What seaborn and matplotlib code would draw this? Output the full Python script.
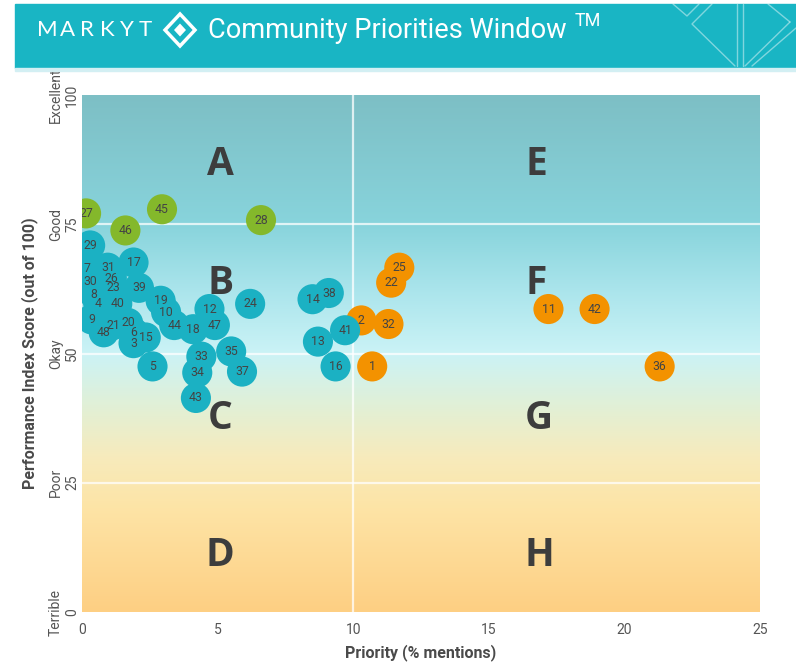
import numpy as np
import pandas as pd
import matplotlib
matplotlib.use("Agg")
import matplotlib.pyplot as plt
from matplotlib.colors import LinearSegmentedColormap
from matplotlib.patches import Polygon, Rectangle
from matplotlib.lines import Line2D
import seaborn as sns

# Community priority items (id, priority %, performance score, group)
labels = [25, 22, 2, 32, 1, 11, 42, 36,
          27, 45, 46, 28,
          29, 7, 31, 17, 26, 30, 23, 39, 8, 4, 40, 19, 10, 12, 24,
          9, 21, 20, 6, 48, 15, 3, 44, 18, 47, 5, 33, 35, 34, 37, 43,
          14, 38, 13, 41, 16]
priority = [11.7, 11.4, 10.3, 11.3, 10.7, 17.2, 18.9, 21.3,
            0.15, 2.95, 1.6, 6.6,
            0.3, 0.2, 0.95, 1.9, 1.1, 0.3, 1.15, 2.1, 0.45, 0.6, 1.3, 2.9, 3.1, 4.7, 6.2,
            0.35, 1.15, 1.7, 1.9, 0.8, 2.35, 1.9, 3.4, 4.1, 4.9, 2.6, 4.4, 5.5, 4.25, 5.9, 4.2,
            8.5, 9.1, 8.7, 9.7, 9.35]
performance = [66.6, 63.7, 56.4, 55.7, 47.5, 58.6, 58.6, 47.5,
               77.1, 77.9, 73.8, 75.8,
               70.9, 66.4, 66.6, 67.6, 64.6, 63.9, 62.7, 62.7, 61.5, 59.6, 59.6, 60.2, 58.0, 58.6, 59.6,
               56.6, 55.5, 55.9, 54.1, 54.1, 53.1, 52.0, 55.5, 54.7, 55.5, 47.5, 49.4, 50.4, 46.3, 46.5, 41.4,
               60.5, 61.7, 52.3, 54.5, 47.5]
group = ["high"] * 8 + ["good"] * 4 + ["ok"] * 36

quad_letters = ["A", "E", "B", "F", "C", "G", "D", "H"]
quad_x = [5.1, 16.75, 5.1, 16.75, 5.1, 16.85, 5.1, 16.85]
quad_y = [86.5, 86.5, 63.5, 63.5, 37.5, 37.5, 11.0, 11.0]

ytick_vals = [0, 25, 50, 75, 100]
ytick_words = ["Terrible", "Poor", "Okay", "Good", "Excellent"]
xtick_vals = [0, 5, 10, 15, 20, 25]

palette = {"good": "#84b82b", "ok": "#1bb1c3", "high": "#f39200"}

df = pd.DataFrame({"label": labels, "priority": priority,
                   "performance": performance, "group": group})

sns.set_style("white")
plt.rcParams["font.family"] = ["Roboto", "DejaVu Sans"]

W, H = 796, 666
fig = plt.figure(figsize=(W / 100, H / 100), dpi=100)
ax = fig.add_axes([82 / W, 1 - 612 / H, (760 - 82) / W, (612 - 95) / H])

# background gradient
grad = LinearSegmentedColormap.from_list("bg", [
    (0.0, "#fecf83"), (0.2, "#fde4a6"), (0.3, "#f7ebbc"), (0.4, "#e1f0d7"),
    (0.5, "#cbf3f6"), (0.62, "#abe5ec"), (0.75, "#88d4dc"), (1.0, "#7dbfc5")])
ax.imshow(np.linspace(0, 1, 256).reshape(-1, 1), origin="lower", extent=[0, 25, 0, 100],
          aspect="auto", cmap=grad, zorder=0)

for yv in [25, 50, 75]:
    ax.axhline(yv, color="white", lw=1.6, alpha=0.75, zorder=1)
ax.axvline(10, color="white", lw=1.6, alpha=0.75, zorder=1)

for t, xq, yq in zip(quad_letters, quad_x, quad_y):
    ax.text(xq, yq, t, ha="center", va="center", fontsize=28, fontweight="bold",
            color="#3d3d3d", family=["Open Sans", "DejaVu Sans"], zorder=2)

sns.scatterplot(data=df, x="priority", y="performance", hue="group", palette=palette,
                s=470, edgecolor="none", legend=False, ax=ax, zorder=3)
for coll in ax.collections:
    coll.set_clip_on(True)
    coll.set_clip_path(ax.patch)
for lab, xv, yv in zip(labels, priority, performance):
    ax.text(xv, yv, str(lab), ha="center", va="center", fontsize=8.8,
            color="#444444", zorder=4, clip_on=True)

ax.set_xlim(0, 25)
ax.set_ylim(0, 100)
ax.set_xticks(xtick_vals)
ax.set_xticklabels([str(v) for v in xtick_vals])
ax.set_yticks(ytick_vals)
ax.set_yticklabels([f"{w}\n{v}" for w, v in zip(ytick_words, ytick_vals)],
                   rotation=90, va="center", multialignment="center")
ax.tick_params(axis="both", length=0, colors="#555555", labelsize=10)
ax.tick_params(axis="x", pad=8)
ax.tick_params(axis="y", pad=2)
for sp in ax.spines.values():
    sp.set_visible(False)

ax.set_xlabel("Priority (% mentions)", fontsize=11.5, fontweight="bold", color="#4a4a4a", labelpad=5)
ax.set_ylabel("Performance Index Score (out of 100)", fontsize=11.5, fontweight="bold",
              color="#4a4a4a", labelpad=8)

# header banner
def fx(px):
    return px / W

def fy(py):
    return 1 - py / H

fig.patches.append(Rectangle((fx(15), fy(68)), 1 - fx(15), fy(4) - fy(68),
                             transform=fig.transFigure, color="#19b5c4", zorder=0))
fig.patches.append(Rectangle((fx(15), fy(71)), 1 - fx(15), fy(68) - fy(71),
                             transform=fig.transFigure, color="#d3eff3", zorder=0))

deco = [[(673, 4), (687, 16), (699, 4)],
        [(712, 4), (692, 24), (735, 66)],
        [(737, 4), (737, 66)], [(743, 4), (743, 66)],
        [(745, 66), (790, 22)], [(768, 4), (790, 22)], [(752, 66), (796, 28)]]
for seg in deco:
    xs = [fx(p[0]) for p in seg]
    ys = [fy(p[1]) for p in seg]
    fig.lines.append(Line2D(xs, ys, transform=fig.transFigure, color="white",
                            lw=1.0, alpha=0.45))

# logo word, letters spread out
logo = "MARKYT"
logo_x = [37, 60, 80, 100, 120, 139]
for ch, px in zip(logo, logo_x):
    fig.text(fx(px), fy(30), ch, color="white", fontsize=16, va="center", ha="left",
             family=["Lato", "DejaVu Sans"])
cx, cy = 180, 30
outer = [(cx - 15, cy), (cx, cy - 16), (cx + 15, cy), (cx, cy + 16)]
inner = [(cx - 6, cy), (cx, cy - 6.5), (cx + 6, cy), (cx, cy + 6.5)]
fig.patches.append(Polygon([(fx(a), fy(b)) for a, b in outer], closed=True, fill=False,
                           edgecolor="white", lw=2.5, transform=fig.transFigure))
fig.patches.append(Polygon([(fx(a), fy(b)) for a, b in inner], closed=True,
                           facecolor="white", edgecolor="none", transform=fig.transFigure))
fig.text(fx(208), fy(30), "Community Priorities Window", color="white", fontsize=19.6,
         va="center", ha="left", family=["Roboto", "DejaVu Sans"])
fig.text(fx(575), fy(21), "TM", color="white", fontsize=13, va="center", ha="left",
         family=["Roboto", "DejaVu Sans"])

fig.savefig("out.png", dpi=100, facecolor="white")
